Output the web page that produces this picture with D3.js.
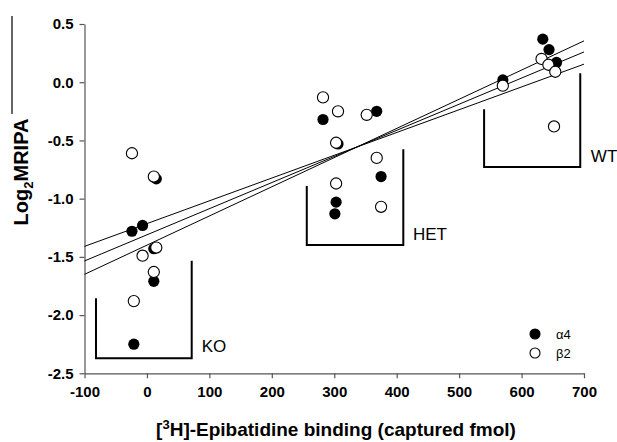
<!DOCTYPE html>
<html>
<head>
<meta charset="utf-8">
<script src="https://cdn.jsdelivr.net/npm/d3@7"></script>
<style>
  body { margin: 0; background: #fff; }
  svg { font-family: 'Liberation Sans', Arial, sans-serif; }
</style>
</head>
<body>
<div id="chart"></div>
<script>
// tick values
const x_ticks = [-100, 0, 100, 200, 300, 400, 500, 600, 700];
const y_ticks = [-2.5, -2.0, -1.5, -1.0, -0.5, 0.0, 0.5];

// alpha4 subunit (filled)
const a4_x = [15, -24, -7, 11, 11, -21, 282, 368, 306, 375, 303, 301, 634, 644, 656, 570];
const a4_y = [-0.83, -1.28, -1.23, -1.43, -1.71, -2.25, -0.32, -0.25, -0.53, -0.81, -1.03, -1.13, 0.37, 0.28, 0.17, 0.02];

// beta2 subunit (open)
const b2_x = [-24, 11, -7, 15, 11, -21, 282, 306, 352, 303, 368, 303, 375, 632, 643, 654, 570, 652];
const b2_y = [-0.61, -0.81, -1.49, -1.42, -1.63, -1.88, -0.13, -0.25, -0.28, -0.52, -0.65, -0.87, -1.07, 0.20, 0.15, 0.09, -0.03, -0.38];

// regression line and bounds, end points at x = -100 and x = 700
const fit_x = [-100, 700];
const fit_lines = [[-1.41, 0.155], [-1.535, 0.26], [-1.65, 0.355]];

// genotype brackets
const groups = ['KO', 'HET', 'WT'];
const group_boxes = [
  [[-81.6, -1.856], [-81.6, -2.371], [71.7, -2.371], [71.7, -1.533]],
  [[256, -0.891], [256, -1.398], [410.6, -1.398], [410.6, -0.576]],
  [[540, -0.233], [540, -0.728], [694, -0.728], [694, 0.077]]
];
const group_labels = [[87.7, -2.317], [426, -1.355], [711, -0.685]];

const legend_names = ['\u03b14', '\u03b22'];

const width = 617;
const height = 442;

const svg = d3.select('#chart')
  .append('svg')
    .attr('width', width)
    .attr('height', height);

const x = d3.scaleLinear()
  .domain([-100, 700])
  .range([84.5, 584]);

const y = d3.scaleLinear()
  .domain([-2.5, 0.5])
  .range([373.3, 24]);

const xdom = svg.append('g')
  .attr('transform', 'translate(0,' + y(-2.5) + ')')
  .call(d3.axisBottom(x).tickValues(x_ticks).tickSize(5).tickSizeOuter(0)
    .tickFormat(d => String(d)));

const ydom = svg.append('g')
  .attr('transform', 'translate(' + x(-100) + ',0)')
  .call(d3.axisLeft(y).tickValues(y_ticks).tickSize(5).tickSizeOuter(0)
    .tickFormat(d => d.toFixed(1)));

[xdom, ydom].forEach(g => {
  g.select('.domain').attr('stroke', '#555').attr('stroke-width', 1.2);
  g.selectAll('.tick line').attr('stroke', '#555').attr('stroke-width', 1.2);
  g.selectAll('.tick text')
    .attr('fill', '#000')
    .style('font-size', '15px')
    .style('font-weight', 'bold');
});
xdom.selectAll('.tick text').attr('dy', '1.05em');
ydom.selectAll('.tick text').attr('x', -11);

// axis titles
const xlabel = svg.append('text')
  .attr('x', 336)
  .attr('y', 436)
  .style('text-anchor', 'middle')
  .style('font-size', '19px')
  .style('font-weight', 'bold');
xlabel.append('tspan').text('[');
xlabel.append('tspan').attr('dy', -7).style('font-size', '13px').text('3');
xlabel.append('tspan').attr('dy', 7).text('H]-Epibatidine binding (captured fmol)');

const ylabel = svg.append('text')
  .attr('transform', 'translate(28,172) rotate(-90)')
  .style('text-anchor', 'middle')
  .style('font-size', '20px')
  .style('font-weight', 'bold');
ylabel.append('tspan').text('Log');
ylabel.append('tspan').attr('dy', 5).style('font-size', '13px').text('2');
ylabel.append('tspan').attr('dy', -5).text('MRIPA');

svg.append('line')
  .attr('x1', 12).attr('x2', 12)
  .attr('y1', 16).attr('y2', 114)
  .attr('stroke', '#000')
  .attr('stroke-width', 1.2);

// fit lines
const line = d3.line()
  .x(d => x(d[0]))
  .y(d => y(d[1]));

svg.append('g')
  .selectAll('path')
  .data(fit_lines)
  .join('path')
    .attr('d', d => line(fit_x.map((v, i) => [v, d[i]])))
    .attr('fill', 'none')
    .attr('stroke', '#000')
    .attr('stroke-width', 1);

// brackets and group names
svg.append('g')
  .selectAll('path')
  .data(group_boxes)
  .join('path')
    .attr('d', d => line(d))
    .attr('fill', 'none')
    .attr('stroke', '#000')
    .attr('stroke-width', 2);

svg.append('g')
  .selectAll('text')
  .data(groups)
  .join('text')
    .attr('x', (d, i) => x(group_labels[i][0]))
    .attr('y', (d, i) => y(group_labels[i][1]))
    .style('font-size', '17px')
    .text(d => d);

// points
const r = 5.6;

svg.append('g')
  .selectAll('circle')
  .data(a4_x)
  .join('circle')
    .attr('cx', d => x(d))
    .attr('cy', (d, i) => y(a4_y[i]))
    .attr('r', r)
    .attr('fill', '#000');

svg.append('g')
  .selectAll('circle')
  .data(b2_x)
  .join('circle')
    .attr('cx', d => x(d))
    .attr('cy', (d, i) => y(b2_y[i]))
    .attr('r', r)
    .attr('fill', '#fff')
    .attr('stroke', '#000')
    .attr('stroke-width', 1.1);

// legend
const legend = svg.append('g')
  .attr('transform', 'translate(535,334)');

legend.selectAll('circle')
  .data(legend_names)
  .join('circle')
    .attr('cx', 0)
    .attr('cy', (d, i) => i * 19)
    .attr('r', 5)
    .attr('fill', (d, i) => i == 0 ? '#000' : '#fff')
    .attr('stroke', '#000')
    .attr('stroke-width', 1.1);

legend.selectAll('text')
  .data(legend_names)
  .join('text')
    .attr('x', 21)
    .attr('y', (d, i) => i * 19)
    .attr('dy', '0.35em')
    .style('font-size', '13px')
    .text(d => d);
</script>
</body>
</html>
